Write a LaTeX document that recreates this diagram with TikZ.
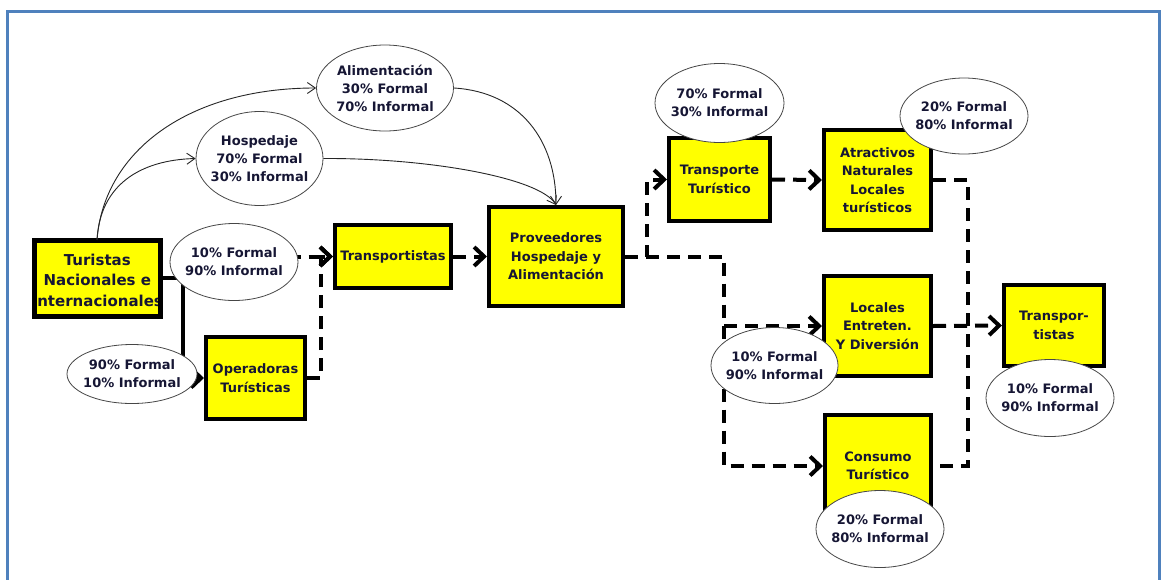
\documentclass[tikz,border=0pt]{standalone}
\usepackage{fontspec}
\setmainfont{DejaVu Sans}
\usetikzlibrary{arrows.meta,shapes.geometric,calc}
\definecolor{boxyel}{RGB}{255,255,0}
\definecolor{frameblue}{RGB}{79,129,189}
\definecolor{txtc}{RGB}{22,22,52}
\definecolor{ellgray}{RGB}{70,70,70}
\begin{document}
\begin{tikzpicture}[x=1pt,y=-1pt,
  stepbox/.style={draw=black,line width=4pt,fill=boxyel,inner sep=0pt,align=center,text=txtc,
    font=\bfseries\fontsize{13}{18.5}\selectfont},
  oval/.style={ellipse,draw=ellgray,line width=0.8pt,fill=white,inner xsep=-10pt,inner ysep=-5pt,align=center,text=txtc,
    font=\bfseries\fontsize{13}{18}\selectfont},
  flow/.style={line width=4pt,draw=black,-{Straight Barb[length=10pt,width=19pt]}},
  flowd/.style={flow,dash pattern=on 13pt off 8pt},
  busline/.style={line width=4pt,draw=black,dash pattern=on 13pt off 8pt},
  thinarrow/.style={line width=0.9pt,draw=black!85,-{Straight Barb[length=8pt,width=11pt]}}
]
\useasboundingbox (0,0) rectangle (1162,579);
\fill[white] (0,0) rectangle (1162,579);
\draw[frameblue,line width=3pt] (7,600) -- (7,11.5) -- (1159,11.5) -- (1159,600);

% boxes
\node[stepbox,outer sep=0pt,minimum width=126pt,minimum height=76pt] (tur) at (97,278) {};
\node[text=txtc,font=\bfseries\fontsize{15}{20.5}\selectfont,align=center,inner sep=0pt] (turtxt) at (97.3,280) {Turistas\\Nacionales e\\Internacionales};
\draw[black,line width=5pt] (tur.north west) rectangle (tur.south east);
\node[stepbox,minimum width=99pt,minimum height=82pt] (ope) at (255.5,378) {Operadoras\\Turísticas};
\node[stepbox,minimum width=116pt,minimum height=63pt] (trp) at (393,256.5) {Transportistas};
\node[stepbox,minimum width=134pt,minimum height=99pt] (pro) at (556,256.5) {Proveedores\\Hospedaje y\\Alimentación};
\node[stepbox,minimum width=101pt,minimum height=83pt] (tt) at (719.5,179.5) {Transporte\\Turístico};
\node[stepbox,minimum width=107pt,minimum height=100pt] (atr) at (877.5,180) {Atractivos\\Naturales\\Locales\\turísticos};
\node[stepbox,minimum width=107pt,minimum height=100pt] (loc) at (877.5,326) {Locales\\Entreten.\\Y Diversión};
\node[stepbox,minimum width=106pt,minimum height=102pt] (con) at (878,466) {Consumo\\Turístico};
\node[stepbox,minimum width=100pt,minimum height=81pt] (tr2) at (1054,325.5) {Transpor-\\tistas};

% upper ellipses
\node[oval,minimum width=137pt,minimum height=86pt] (e3) at (385,88) {Alimentación\\30\% Formal\\70\% Informal};
\node[oval,minimum width=127pt,minimum height=94pt] (e4) at (259.5,158.5) {Hospedaje\\70\% Formal\\30\% Informal};

% curved connectors
\draw[thinarrow] (tur.north) .. controls (104,150) and (190,88) .. (e3.west);
\draw[thinarrow] (tur.north) .. controls (100,185) and (140,160) .. (e4.west);
\draw[thinarrow] (e3.east) .. controls (520,92) and (556,140) .. (pro.north);
\draw[thinarrow] (e4.east) .. controls (430,158) and (540,178) .. (pro.north);

% junctions
\coordinate (j0) at (183,278);
\coordinate (j1) at (321,378);
\coordinate (j2) at (647,256.5);
\coordinate (j3) at (724,256.5);
\coordinate (j4) at (968,180);

% flow connectors
\draw[flow] (tur.east) -- (j0) |- (ope.west);
\draw[flowd] (j0) |- (trp.west);
\draw[flowd] (ope.east) -- (j1) |- (trp.west);
\draw[flowd] (trp.east) -- (pro.west);
\draw[flowd] (pro.east) -- (j2) |- (tt.west);
\draw[flowd] (pro.east) -- (j3) |- (con.west);
\draw[flowd] (j3 |- loc.west) -- (loc.west);
\draw[flowd] (tt.east) -- (atr.west);
\draw[busline] (atr.east) -- (j4) |- (con.east);
\draw[flowd] (loc.east) -- (tr2.west);

% other ellipses
\node[oval,minimum width=128pt,minimum height=77pt] (e1) at (234,262) {10\% Formal\\90\% Informal};
\node[oval,minimum width=130pt,minimum height=59pt] (e2) at (132,374) {90\% Formal\\10\% Informal};
\node[oval,minimum width=129pt,minimum height=79pt] (e5) at (719.5,103) {70\% Formal\\30\% Informal};
\node[oval,minimum width=128pt,minimum height=76pt] (e6) at (964,116) {20\% Formal\\80\% Informal};
\node[oval,minimum width=127pt,minimum height=76pt] (e7) at (774.5,365.5) {10\% Formal\\90\% Informal};
\node[oval,minimum width=128pt,minimum height=77pt] (e8) at (880,529) {20\% Formal\\80\% Informal};
\node[oval,minimum width=128pt,minimum height=77pt] (e9) at (1050,398) {10\% Formal\\90\% Informal};
\end{tikzpicture}
\end{document}
